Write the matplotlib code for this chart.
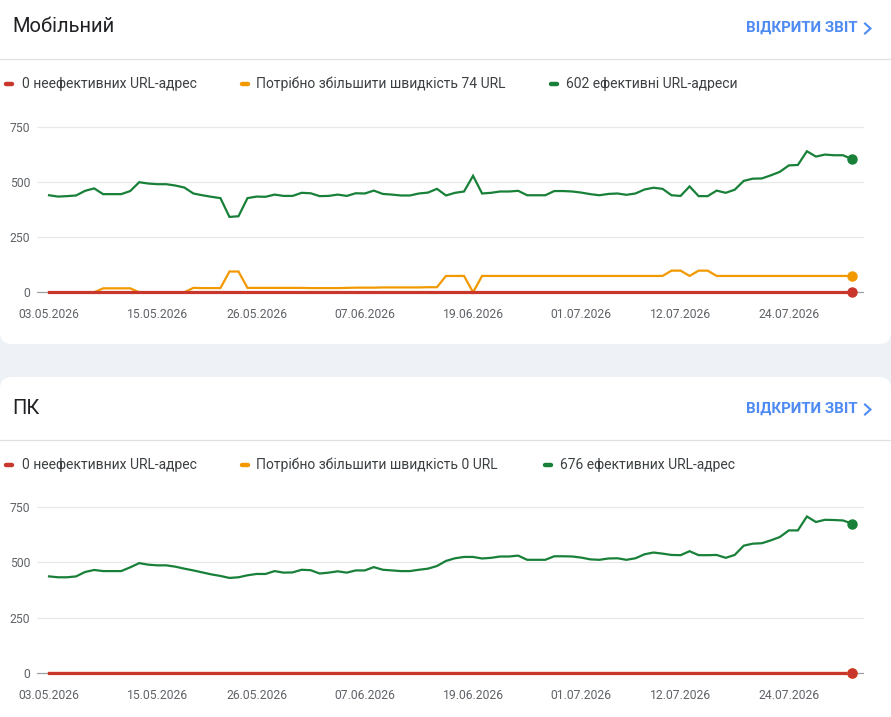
import matplotlib
matplotlib.use("Agg")
import matplotlib.pyplot as plt
from matplotlib.patches import FancyBboxPatch
from matplotlib.lines import Line2D
from matplotlib.transforms import Affine2D
import pandas as pd

plt.rcParams['font.family'] = ['Roboto', 'DejaVu Sans']

# ---------------- data ----------------
dates = pd.date_range("2026-05-03", periods=90, freq="D")
x_idx = list(range(len(dates)))
tick_idx = [0, 12, 23, 35, 47, 59, 70, 82]
tick_labels = [dates[i].strftime("%d.%m.%Y") for i in tick_idx]
y_ticks = [0, 250, 500, 750]

mob_good = [439, 433, 435, 438, 459, 470, 444, 444, 444, 458,
            498, 492, 489, 489, 483, 474, 447, 439, 432, 426,
            341, 344, 426, 433, 432, 442, 436, 436, 450, 448,
            435, 436, 442, 436, 448, 447, 460, 445, 442, 438,
            438, 447, 451, 468, 438, 450, 456, 527, 447, 450,
            456, 456, 459, 439, 439, 439, 458, 458, 456, 451,
            444, 439, 445, 447, 441, 447, 465, 473, 468, 439,
            436, 479, 435, 435, 460, 450, 464, 504, 514, 515,
            529, 545, 574, 576, 638, 614, 623, 620, 620, 602]
mob_improve = [0, 0, 0, 0, 0, 0, 18, 18, 18, 18,
               0, 0, 0, 0, 0, 0, 20, 19, 19, 19,
               94, 94, 20, 20, 20, 20, 20, 20, 20, 19,
               19, 19, 19, 20, 21, 21, 21, 22, 22, 22,
               22, 22, 23, 23, 74, 74, 74, 0, 74, 74,
               74, 74, 74, 74, 74, 74, 74, 74, 74, 74,
               74, 74, 74, 74, 74, 74, 74, 74, 74, 98,
               98, 74, 98, 98, 74, 74, 74, 74, 74, 74,
               74, 74, 74, 74, 74, 74, 74, 74, 74, 74]
mob_poor = [0, 0, 0, 0, 0, 0, 0, 0, 0, 0,
            0, 0, 0, 0, 0, 0, 0, 0, 0, 0,
            0, 0, 0, 0, 0, 0, 0, 0, 0, 0,
            0, 0, 0, 0, 0, 0, 0, 0, 0, 0,
            0, 0, 0, 0, 0, 0, 0, 0, 0, 0,
            0, 0, 0, 0, 0, 0, 0, 0, 0, 0,
            0, 0, 0, 0, 0, 0, 0, 0, 0, 0,
            0, 0, 0, 0, 0, 0, 0, 0, 0, 0,
            0, 0, 0, 0, 0, 0, 0, 0, 0, 0]

pc_good = [437, 433, 433, 437, 457, 466, 461, 461, 461, 478,
           497, 490, 487, 487, 481, 472, 464, 455, 446, 439,
           430, 433, 442, 448, 448, 461, 454, 455, 467, 465,
           450, 454, 460, 454, 464, 464, 479, 467, 464, 461,
           461, 467, 472, 484, 507, 519, 525, 525, 518, 521,
           527, 527, 531, 512, 512, 512, 528, 528, 527, 522,
           514, 512, 518, 519, 512, 519, 537, 545, 540, 534,
           533, 551, 533, 533, 534, 521, 534, 576, 585, 587,
           600, 615, 645, 645, 708, 683, 693, 692, 690, 676]
pc_improve = [0, 0, 0, 0, 0, 0, 0, 0, 0, 0,
              0, 0, 0, 0, 0, 0, 0, 0, 0, 0,
              0, 0, 0, 0, 0, 0, 0, 0, 0, 0,
              0, 0, 0, 0, 0, 0, 0, 0, 0, 0,
              0, 0, 0, 0, 0, 0, 0, 0, 0, 0,
              0, 0, 0, 0, 0, 0, 0, 0, 0, 0,
              0, 0, 0, 0, 0, 0, 0, 0, 0, 0,
              0, 0, 0, 0, 0, 0, 0, 0, 0, 0,
              0, 0, 0, 0, 0, 0, 0, 0, 0, 0]
pc_poor = [0, 0, 0, 0, 0, 0, 0, 0, 0, 0,
           0, 0, 0, 0, 0, 0, 0, 0, 0, 0,
           0, 0, 0, 0, 0, 0, 0, 0, 0, 0,
           0, 0, 0, 0, 0, 0, 0, 0, 0, 0,
           0, 0, 0, 0, 0, 0, 0, 0, 0, 0,
           0, 0, 0, 0, 0, 0, 0, 0, 0, 0,
           0, 0, 0, 0, 0, 0, 0, 0, 0, 0,
           0, 0, 0, 0, 0, 0, 0, 0, 0, 0,
           0, 0, 0, 0, 0, 0, 0, 0, 0, 0]

titles = ["Мобільний", "ПК"]
link_text = "ВІДКРИТИ ЗВІТ"
mob_legend = ["0 неефективних URL-адрес", "Потрібно збільшити швидкість 74 URL",
              "602 ефективні URL-адреси"]
pc_legend = ["0 неефективних URL-адрес", "Потрібно збільшити швидкість 0 URL",
             "676 ефективних URL-адрес"]

# ---------------- style ----------------
W, H = 891, 717
C_GOOD = "#188038"
C_IMP = "#f29900"
C_POOR = "#c9372c"
C_BLUE = "#4f8bf2"
C_BG = "#eef2f7"

fig = plt.figure(figsize=(W / 100, H / 100), dpi=100, facecolor=C_BG)
pxT = Affine2D().scale(1 / 100, -1 / 100).translate(0, H / 100) + fig.dpi_scale_trans


def fx(p):
    return p / W


def fy(p):
    return 1 - p / H


# cards
fig.add_artist(FancyBboxPatch((0, -30), W, 374, boxstyle="round,pad=0,rounding_size=12",
                              transform=pxT, facecolor="white", edgecolor="none", zorder=0))
fig.add_artist(FancyBboxPatch((0, 377), W, 380, boxstyle="round,pad=0,rounding_size=12",
                              transform=pxT, facecolor="white", edgecolor="none", zorder=0))


def panel(top, title, legend, good, imp, poor, zero_px, title_dy):
    # header
    fig.text(fx(12), fy(top + title_dy), title, fontsize=14.5, color="#202124",
             va="center", ha="left")
    fig.text(fx(858), fy(top + 28), link_text, fontsize=10.8, color=C_BLUE, va="center",
             ha="right", fontweight="bold")
    fig.add_artist(Line2D([865, 870.5, 865], [top + 23.5, top + 28.5, top + 33.5], transform=pxT,
                          color=C_BLUE, lw=1.5, solid_joinstyle="miter"))
    fig.add_artist(Line2D([0, W], [top + 59, top + 59], transform=pxT, color="#e0e0e0", lw=0.9))
    # legend
    ly = top + 84
    items = [(legend[0], C_POOR, 4, 22), (legend[1], C_IMP, 240, 256)]
    if title == "ПК":
        items.append((legend[2], C_GOOD, 543, 560))
    else:
        items.append((legend[2], C_GOOD, 549, 566))
    for txt, col, dx, tx in items:
        fig.add_artist(Line2D([dx + 2, dx + 8], [ly, ly], transform=pxT, color=col, lw=3.2,
                              solid_capstyle="round"))
        fig.text(fx(tx), fy(ly), txt, fontsize=10, color="#3c4043", va="center", ha="left")

    # axes
    ppu = 165.8 / 750
    ylo, yhi = -20, 770
    bottom = zero_px - ylo * ppu
    topp = zero_px - yhi * ppu
    ax = fig.add_axes([fx(37), fy(bottom), fx(864) - fx(37), (bottom - topp) / H])
    ax.set_facecolor("none")
    ax.set_xlim(-12 / 9.02, 89 + 12 / 9.02)
    ax.set_ylim(ylo, yhi)
    for s in ax.spines.values():
        s.set_visible(False)
    for yv in y_ticks[1:]:
        ax.axhline(yv, color="#e8e8e8", lw=0.9, zorder=1)
    ax.axhline(0, color="#9aa0a6", lw=0.9, zorder=1)
    ax.set_yticks(y_ticks)
    ax.set_yticklabels([str(v) for v in y_ticks])
    ax.set_xticks(tick_idx)
    ax.set_xticklabels(tick_labels)
    ax.tick_params(axis="both", length=0, labelsize=8.7, labelcolor="#5f6368")
    ax.tick_params(axis="y", pad=5)
    ax.tick_params(axis="x", pad=8)

    ax.plot(x_idx, good, color=C_GOOD, lw=1.6, zorder=3, solid_joinstyle="miter")
    ax.plot(x_idx, imp, color=C_IMP, lw=1.6, zorder=4, solid_joinstyle="miter")
    ax.plot(x_idx, poor, color=C_POOR, lw=2.3, zorder=5)
    ax.plot([x_idx[-1]], [good[-1]], "o", color=C_GOOD, ms=6.5, zorder=6, clip_on=False)
    ax.plot([x_idx[-1]], [imp[-1]], "o", color=C_IMP, ms=6.5, zorder=6, clip_on=False)
    ax.plot([x_idx[-1]], [poor[-1]], "o", color=C_POOR, ms=6.5, zorder=7, clip_on=False)
    return ax


panel(0, titles[0], mob_legend, mob_good, mob_improve, mob_poor, 292.3, 27)
panel(381, titles[1], pc_legend, pc_good, pc_improve, pc_poor, 673.0, 27)

fig.savefig("out.png", dpi=100, facecolor=C_BG)
